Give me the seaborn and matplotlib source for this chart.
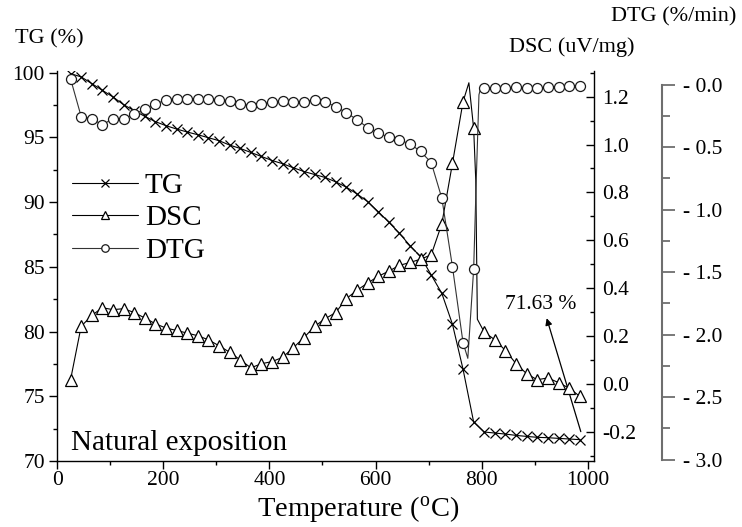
import numpy as np
import pandas as pd
import matplotlib
matplotlib.use("Agg")
import matplotlib.pyplot as plt
import seaborn as sns
from matplotlib.ticker import MultipleLocator, FixedLocator

# ---------------- data ----------------
temperature = [25, 45, 65, 85, 105, 125, 145, 165, 185, 205, 225, 245, 265, 285,
               305, 325, 345, 365, 385, 405, 425, 445, 465, 485, 505, 525, 545,
               565, 585, 605, 625, 645, 665, 685, 705, 725, 745, 765, 785, 805,
               825, 845, 865, 885, 905, 925, 945, 965, 985]

tg = [99.92, 99.67, 99.15, 98.63, 98.12, 97.52, 97.06, 96.62, 96.21, 95.90,
      95.64, 95.41, 95.20, 94.97, 94.74, 94.40, 94.14, 93.83, 93.52, 93.21,
      92.96, 92.65, 92.36, 92.13, 91.90, 91.56, 91.15, 90.63, 90.04, 89.26,
      88.45, 87.59, 86.63, 85.78, 84.37, 82.95, 80.57, 77.09, 73.01, 72.24,
      72.16, 72.08, 71.98, 71.90, 71.83, 71.80, 71.75, 71.70, 71.65]

dsc = [0.017, 0.240, 0.286, 0.318, 0.310, 0.314, 0.298, 0.275, 0.251, 0.233,
       0.223, 0.212, 0.201, 0.184, 0.159, 0.132, 0.100, 0.067, 0.084, 0.093,
       0.111, 0.151, 0.193, 0.240, 0.272, 0.298, 0.356, 0.391, 0.421, 0.449,
       0.471, 0.495, 0.507, 0.521, 0.539, 0.669, 0.921, 1.179, 1.067, 0.216,
       0.184, 0.139, 0.084, 0.042, 0.017, 0.025, 0.005, -0.018, -0.052]

dtg = [0.048, -0.254, -0.270, -0.321, -0.270, -0.270, -0.235, -0.195, -0.155,
       -0.120, -0.112, -0.115, -0.115, -0.112, -0.120, -0.128, -0.152, -0.166,
       -0.152, -0.139, -0.128, -0.134, -0.134, -0.120, -0.136, -0.176, -0.222,
       -0.280, -0.342, -0.387, -0.419, -0.443, -0.473, -0.534, -0.623, -0.908,
       -1.456, -2.065, -1.477, -0.026, -0.026, -0.026, -0.020, -0.026, -0.026,
       -0.020, -0.020, -0.012, -0.008]

# extra (unmarked) line points at the sharp peaks
dsc_peak_t = [776, 789, 792]
dsc_peak_v = [1.258, 0.85, 0.27]
dtg_peak_t = [774, 790, 795, 798]
dtg_peak_v = [-2.19, -0.75, -0.08, -0.03]

series_names = ["TG", "DSC", "DTG"]
dtg_tick_values = [0.0, -0.5, -1.0, -1.5, -2.0, -2.5, -3.0]
dtg_tick_labels = ["- 0.0", "- 0.5", "- 1.0", "- 1.5", "- 2.0", "- 2.5", "- 3.0"]
annotation_text = "71.63 %"
panel_text = "Natural exposition"

# ---------------- styling ----------------
sns.set_theme(style="ticks", rc={
    "axes.edgecolor": "black", "xtick.color": "black", "ytick.color": "black",
    "text.color": "black", "axes.labelcolor": "black", "axes.linewidth": 1.0,
})
plt.rcParams["font.family"] = ["Liberation Serif", "DejaVu Serif"]
plt.rcParams["mathtext.fontset"] = "custom"
plt.rcParams["mathtext.rm"] = "Liberation Serif"
plt.rcParams["mathtext.it"] = "Liberation Serif:italic"
plt.rcParams["axes.unicode_minus"] = False

fig = plt.figure(figsize=(7.42, 5.27), dpi=100)
ax = fig.add_axes([0.0772, 0.1252, 0.7237, 0.7400])
ax2 = ax.twinx()
ax3 = ax.twinx()


def merged(t, v, et=(), ev=()):
    df = pd.DataFrame({"t": list(t) + list(et), "v": list(v) + list(ev),
                       "main": [True] * len(t) + [False] * len(et)})
    df = df.sort_values("t").reset_index(drop=True)
    return df, list(np.where(df["main"].values)[0])


tg_df, tg_idx = merged(temperature, tg)
dsc_df, dsc_idx = merged(temperature, dsc, dsc_peak_t, dsc_peak_v)
dtg_df, dtg_idx = merged(temperature, dtg, dtg_peak_t, dtg_peak_v)

sns.lineplot(data=tg_df, x="t", y="v", ax=ax, color="black", lw=0.8,
             marker="x", markevery=tg_idx, markersize=7, markeredgewidth=0.9,
             markeredgecolor="black", label=series_names[0], legend=False,
             estimator=None)
sns.lineplot(data=dsc_df, x="t", y="v", ax=ax2, color="black", lw=0.8,
             marker="^", markevery=dsc_idx, markersize=8.5, markeredgewidth=0.9,
             markerfacecolor="white", markeredgecolor="black",
             label=series_names[1], legend=False, estimator=None)
sns.lineplot(data=dtg_df, x="t", y="v", ax=ax3, color="#333333", lw=0.8,
             marker="o", markevery=dtg_idx, markersize=7.2, markeredgewidth=0.9,
             markerfacecolor="white", markeredgecolor="#1a1a1a",
             label=series_names[2], legend=False, estimator=None)

# main axis
ax.set_xlim(0, 1012.4)
ax.set_ylim(70, 100.12)
ax.xaxis.set_major_locator(MultipleLocator(200))
ax.xaxis.set_minor_locator(MultipleLocator(100))
ax.yaxis.set_major_locator(MultipleLocator(5))
ax.yaxis.set_minor_locator(MultipleLocator(2.5))
ax.tick_params(axis="both", which="major", direction="out", length=5.5,
               width=1.0, labelsize=15.5)
ax.tick_params(axis="both", which="minor", direction="out", length=3, width=1.0)
ax.tick_params(axis="x", which="major", pad=1.5)
ax.tick_params(axis="y", which="major", pad=3.5)
ax.spines["top"].set_visible(False)
ax.spines["right"].set_visible(False)
ax.set_xlabel("")
ax.set_ylabel("")
ax.text(0.5596, -0.123, r"Temperature ($^{\mathrm{o}}$C)", transform=ax.transAxes,
        ha="center", va="center", fontsize=20.5)

# DSC axis
ax2.set_ylim(-0.3225, 1.307)
ax2.yaxis.set_major_locator(MultipleLocator(0.2))
ax2.yaxis.set_minor_locator(MultipleLocator(0.1))
ax2.yaxis.set_major_formatter(matplotlib.ticker.FormatStrFormatter("%.1f"))
ax2.tick_params(axis="y", which="major", direction="in", length=5.5, width=1.0,
                labelsize=15.5, pad=5.5)
ax2.tick_params(axis="y", which="minor", direction="in", length=3, width=1.0)
for s in ["top", "left", "bottom"]:
    ax2.spines[s].set_visible(False)
ax2.set_ylabel("")

# DTG axis
gray = "#6e6e6e"
ax3.set_ylim(-3.012, 0.11)
ax3.spines["right"].set_position(("outward", 48.5))
ax3.spines["right"].set_bounds(-3.0, 0.0)
ax3.spines["right"].set_color(gray)
ax3.spines["right"].set_linewidth(1.5)
for s in ["top", "left", "bottom"]:
    ax3.spines[s].set_visible(False)
ax3.yaxis.set_major_locator(FixedLocator(dtg_tick_values))
ax3.yaxis.set_minor_locator(MultipleLocator(0.25))
ax3.set_yticklabels(dtg_tick_labels)
ax3.tick_params(axis="y", which="major", direction="out", length=9.5, width=1.3,
                color=gray, labelcolor="black", labelsize=15.5, pad=6)
ax3.tick_params(axis="y", which="minor", direction="out", length=5.5, width=1.3,
                color=gray)
ax3.set_ylabel("")

# axis titles
fig.text(49 / 742, 1 - 39.3 / 527, "TG (%)", ha="center", va="center", fontsize=16)
fig.text(571.7 / 742, 1 - 46.7 / 527, "DSC (uV/mg)", ha="center", va="center",
         fontsize=16)
fig.text(674 / 742, 1 - 16.7 / 527, "DTG (%/min)", ha="center", va="center",
         fontsize=16)

# annotation
ax.annotate("", xy=(922.7, 81.03), xytext=(987, 72.27),
            arrowprops=dict(arrowstyle="-|>", color="black", lw=0.9,
                            mutation_scale=10, shrinkA=0, shrinkB=0))
ax.text(912, 82.06, annotation_text, ha="center", va="center", fontsize=15.5)
ax.text(0.0255, 0.028, panel_text, transform=ax.transAxes, ha="left",
        va="baseline", fontsize=21)

# legend
handles = [ax.get_lines()[0], ax2.get_lines()[0], ax3.get_lines()[0]]
leg = ax3.legend(handles, series_names, loc="upper left",
                 bbox_to_anchor=(0.0268, 0.739), frameon=False, fontsize=21,
                 handlelength=2.28, handletextpad=0.23, labelspacing=0.2,
                 borderpad=0, borderaxespad=0, numpoints=1, markerscale=0.75)

fig.savefig("out.png", dpi=100)
